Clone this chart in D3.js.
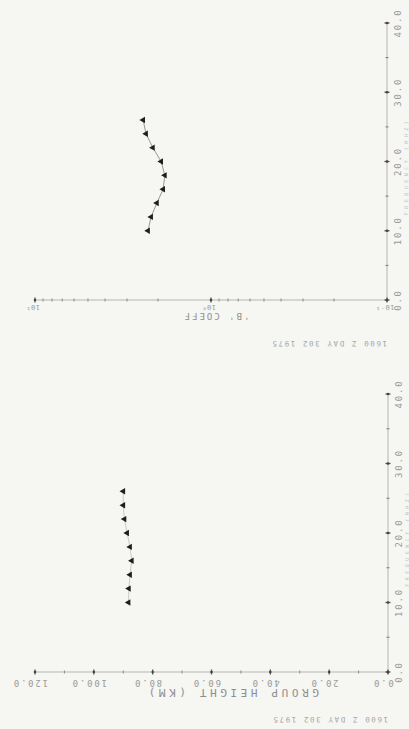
<!DOCTYPE html>
<html>
<head>
<meta charset="utf-8">
<script src="https://cdn.jsdelivr.net/npm/d3@7"></script>
<style>
  html, body { margin: 0; padding: 0; background: #f6f6f3; }
  svg { display: block; }
  text { font-family: "DejaVu Sans Mono", "Liberation Mono", monospace; fill: #9a9a9a; }
</style>
</head>
<body>
<svg id="chart" width="409" height="729"></svg>
<script>
// ---- data ----
const frequencies = [10, 12, 14, 16, 18, 20, 22, 24, 26];            // MHz
const bCoeff = [2.28, 2.19, 2.03, 1.87, 1.83, 1.92, 2.14, 2.34, 2.43]; // 'B' coefficient
const groupHeight = [88.2, 88.1, 87.7, 87.1, 87.7, 88.7, 89.6, 90.0, 90.0]; // km
const freqTicks = [0, 10, 20, 30, 40];
const freqMinor = [5, 15, 25, 35];
const freqTickLabels = ["0.0", "10.0", "20.0", "30.0", "40.0"];
const heightTicks = [0, 20, 40, 60, 80, 100, 120];
const heightMinor = [10, 30, 50, 70, 90, 110];
const heightTickLabels = ["0.0", "20.0", "40.0", "60.0", "80.0", "100.0", "120.0"];
const bTicks = [0.1, 1, 10];
const bTickLabels = ["10\u207B\u00B9", "10\u2070", "10\u00B9"];
const bMinor = [0.2, 0.3, 0.4, 0.5, 0.6, 0.7, 0.8, 0.9, 2, 3, 4, 5, 6, 7, 8, 9];
const stampText = "1600 Z DAY 302 1975";
const bTitle = "'B' COEFF";
const hTitle = "GROUP HEIGHT (KM)";
const fTitle = "FREQUENCY (MHZ)";

const svg = d3.select("#chart");

function drawPanel(cfg) {
  const g = svg.append("g");
  const x = cfg.x, y = cfg.y;
  const x0 = x.range()[1], y0 = y.range()[0];

  // axes lines
  g.append("line").attr("x1", x.range()[0]).attr("x2", x0 + 1)
    .attr("y1", y0).attr("y2", y0).attr("stroke", "#b5b5b5").attr("stroke-width", 1);
  g.append("line").attr("x1", x0).attr("x2", x0)
    .attr("y1", y0 + 2).attr("y2", y.range()[1]).attr("stroke", "#b5b5b5").attr("stroke-width", 1);

  // horizontal axis ticks
  g.selectAll(null).data(cfg.xMinor).join("line")
    .attr("x1", d => x(d)).attr("x2", d => x(d))
    .attr("y1", y0 - 1.5).attr("y2", y0 + 1.5)
    .attr("stroke", "#8a8a8a").attr("stroke-width", 1);
  g.selectAll(null).data(cfg.xTicks).join("line")
    .attr("x1", d => x(d)).attr("x2", d => x(d))
    .attr("y1", y0 - 2.5).attr("y2", y0 + 2.5)
    .attr("stroke", "#555").attr("stroke-width", 1.3);
  g.selectAll(null).data(cfg.xTicks).join("circle")
    .attr("cx", d => x(d)).attr("cy", y0).attr("r", 1.3).attr("fill", "#444");

  // vertical axis ticks
  g.selectAll(null).data(freqMinor).join("line")
    .attr("y1", d => y(d)).attr("y2", d => y(d))
    .attr("x1", x0 - 1.5).attr("x2", x0 + 1.5)
    .attr("stroke", "#7a7a7a").attr("stroke-width", 1);
  g.selectAll(null).data(freqTicks).join("line")
    .attr("y1", d => y(d)).attr("y2", d => y(d))
    .attr("x1", x0 - 2.5).attr("x2", x0 + 2.5)
    .attr("stroke", "#555").attr("stroke-width", 1.3);
  g.selectAll(null).data(freqTicks).join("circle")
    .attr("cy", d => y(d)).attr("cx", x0).attr("r", 1.3).attr("fill", "#444");

  // horizontal tick labels (rotated 180)
  g.selectAll(null).data(cfg.xTicks).join("text")
    .attr("transform", d => `translate(${x(d) + cfg.xLabelShift},${y0 + cfg.xLabelDy}) rotate(180)`)
    .attr("text-anchor", "middle").attr("dy", "0.35em")
    .style("font-size", cfg.xLabelSize + "px")
    .style("letter-spacing", cfg.xLabelSpacing + "px")
    .text((d, i) => cfg.xLabels[i]);

  // vertical tick labels (rotated -90)
  g.selectAll(null).data(freqTicks).join("text")
    .attr("transform", d => `translate(${x0 + 11},${y(d)}) rotate(-90)`)
    .attr("text-anchor", "middle").attr("dy", "0.35em")
    .style("font-size", "9px").style("letter-spacing", "1.8px")
    .text((d, i) => freqTickLabels[i]);

  // axis title (rotated 180)
  g.append("text")
    .attr("transform", `translate(${cfg.titleX},${y0 + cfg.titleDy}) rotate(180)`)
    .attr("text-anchor", "middle").attr("dy", "0.35em")
    .style("font-size", cfg.titleSize + "px")
    .style("letter-spacing", cfg.titleSpacing + "px")
    .style("fill", "#8f8f8f")
    .text(cfg.title);

  // stamp (rotated 180, starts at right edge of plot and runs leftwards)
  g.append("text")
    .attr("transform", `translate(${x0},${y0 + cfg.stampDy}) rotate(180)`)
    .attr("text-anchor", "start").attr("dy", "0.35em")
    .style("font-size", "7.5px").style("letter-spacing", "1.6px")
    .style("fill", "#a5a5a5")
    .text(stampText);

  // faint frequency title along the very right edge
  g.append("text")
    .attr("transform", `translate(${x0 + 19},${(y.range()[0] + y.range()[1]) / 2 + 5}) rotate(-90)`)
    .attr("text-anchor", "middle").attr("dy", "0.35em")
    .style("font-size", "5px").style("letter-spacing", "3.5px")
    .style("fill", "#c2c2c2")
    .text(fTitle);

  // data line + markers
  const pts = frequencies.map((f, i) => [x(cfg.values[i]), y(f)]);
  g.append("path").attr("d", d3.line()(pts))
    .attr("fill", "none").attr("stroke", cfg.lineColor).attr("stroke-width", 0.9);
  g.selectAll(null).data(pts).join("path")
    .attr("d", d3.symbol(d3.symbolTriangle, 18)())
    .attr("transform", d => `translate(${d[0]},${d[1]}) rotate(-90)`)
    .attr("fill", "#1e1e1e");
}

// top panel: 'B' coefficient (log) vs frequency
drawPanel({
  x: d3.scaleLog().domain([10, 0.1]).range([35, 387]),
  y: d3.scaleLinear().domain([0, 40]).range([300, 23]),
  values: bCoeff,
  xTicks: bTicks, xMinor: bMinor, xLabels: bTickLabels,
  xLabelDy: 7, xLabelShift: -2, xLabelSize: 7, xLabelSpacing: 0.5,
  title: bTitle, titleX: 216, titleDy: 16, titleSize: 9, titleSpacing: 2,
  stampDy: 44,
  lineColor: "#8c8c8c"
});

// bottom panel: group height vs frequency
drawPanel({
  x: d3.scaleLinear().domain([120, 0]).range([35, 388]),
  y: d3.scaleLinear().domain([0, 40]).range([672, 394]),
  values: groupHeight,
  xTicks: heightTicks, xMinor: heightMinor, xLabels: heightTickLabels,
  xLabelDy: 11, xLabelShift: -5, xLabelSize: 9, xLabelSpacing: 1.8,
  title: hTitle, titleX: 232, titleDy: 21, titleSize: 11, titleSpacing: 3.6,
  stampDy: 48,
  lineColor: "#c4c4c4"
});
</script>
</body>
</html>
